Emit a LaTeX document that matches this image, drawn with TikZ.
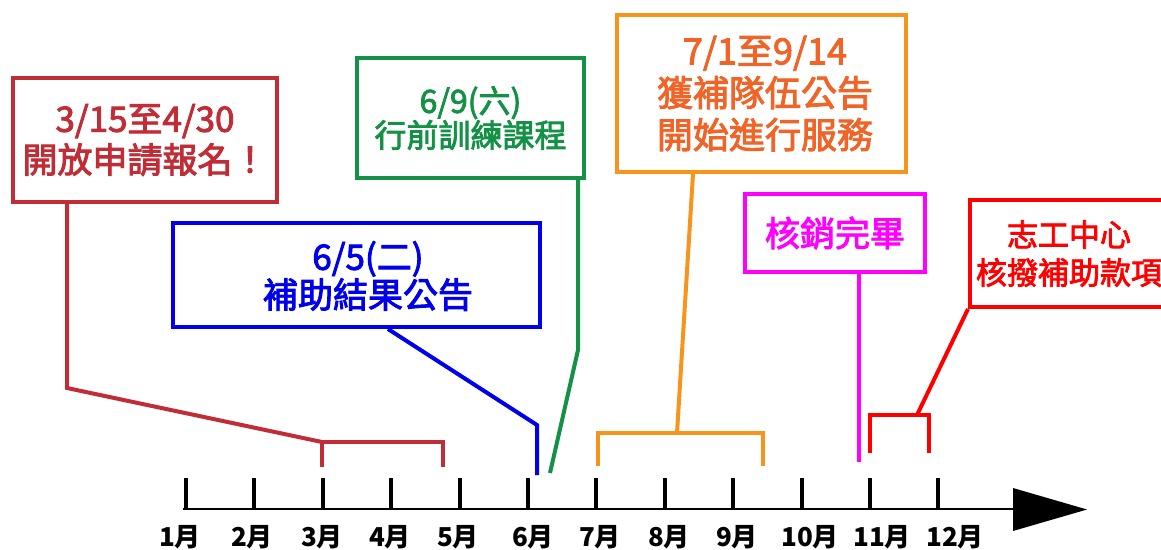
\documentclass[tikz,border=0pt]{standalone}
\usepackage{fontspec}
\setmainfont{Noto Sans CJK TC}
\newfontfamily\medfont{Noto Sans CJK TC}[FakeBold=2.6]
\definecolor{cRedA}{RGB}{192,45,55}
\definecolor{cBlue}{RGB}{0,0,235}
\definecolor{cGreen}{RGB}{20,145,70}
\definecolor{cOrange}{RGB}{247,148,30}
\definecolor{cOrangeT}{RGB}{240,100,40}
\definecolor{cMag}{RGB}{255,0,255}
\definecolor{cRedB}{RGB}{255,0,0}
\tikzset{
  evbox/.style={draw, line width=4pt, fill=white, align=center, inner sep=0pt},
  evtext/.style={align=center, inner sep=0pt},
  conn/.style={line width=4pt, line join=miter},
  tickline/.style={line width=4pt, black},
  monthlbl/.style={font=\fontsize{26}{28}\selectfont\bfseries, inner sep=0pt, anchor=base},
}
\begin{document}
\begin{tikzpicture}[x=1pt,y=-1pt]
\useasboundingbox (0,0) rectangle (1161,549);
\begin{scope}
\clip (0,0) rectangle (1161,549);
% boxes
\node[evbox, draw=cRedA, text=cRedA, minimum width=264pt, minimum height=124pt,
      font=\fontsize{35}{41}\selectfont\medfont] (r1) at (145,140) {3/15至4/30\\開放申請報名！};
\node[evbox, draw=cBlue, minimum width=367pt, minimum height=104pt] (b) at (356.5,275) {};
\node[evtext, text=cBlue, font=\fontsize{35}{38}\selectfont\medfont] (bt) at (368,276) {6/5(二)\\補助結果公告};
\node[evbox, draw=cGreen, text=cGreen, minimum width=227pt, minimum height=120pt,
      font=\fontsize{32}{31}\selectfont\medfont] (g) at (470.5,118) {6/9(六)\\行前訓練課程};
\node[evbox, draw=cOrange, minimum width=289pt, minimum height=157pt] (o) at (761.5,93.5) {};
\node[evtext, text=cOrangeT, font=\fontsize{36}{42}\selectfont\medfont] (ot) at (765,93.5) {7/1至9/14\\獲補隊伍公告\\開始進行服務};
\node[evbox, draw=cMag, text=cMag, minimum width=180pt, minimum height=78pt,
      font=\fontsize{35}{40}\selectfont\medfont] (m) at (835,233) {核銷完畢};
\node[evbox, draw=cRedB, minimum width=205pt, minimum height=107pt] (r2) at (1072.5,253.5) {};
\node[evtext, text=cRedB, font=\fontsize{31}{38}\selectfont\medfont] (r2t) at (1069,253.5) {志工中心\\核撥補助款項};
% connector coordinates
\coordinate (r1k) at (67,388);
\coordinate (r1a) at (322,442);
\coordinate (r1b) at (443,442);
\coordinate (bk) at (537,425);
\coordinate (be) at (537,475);
\coordinate (gk) at (578,350);
\coordinate (ge) at (550,473);
\coordinate (oj) at (677,433);
\coordinate (oa) at (598,433);
\coordinate (ob) at (763,433);
\coordinate (me) at (859,462);
\coordinate (r2j) at (917,415);
\coordinate (r2a) at (870,415);
\coordinate (r2b) at (929,415);
% connectors
\draw[conn, cRedA] (r1.south -| r1k) -- (r1k) -- (r1a);
\draw[conn, cRedA] ([yshift=-25pt]r1a) -- (r1a) -- (r1b) -- ([yshift=-25pt]r1b);
\draw[conn, cBlue] (b.south -| 388,0) -- (bk) -- (be);
\draw[conn, cGreen] (g.south -| gk) -- (gk) -- (ge);
\draw[conn, cOrange] (o.south -| 693,0) -- (oj);
\draw[conn, cOrange] ([yshift=-33pt]oa) -- (oa) -- (ob) -- ([yshift=-33pt]ob);
\draw[conn, cMag] (m.south -| me) -- (me);
\draw[conn, cRedB] (r2.south west) -- (r2j);
\draw[conn, cRedB] ([yshift=-38pt]r2a) -- (r2a) -- (r2b) -- ([yshift=-38pt]r2b);
% axis
\coordinate (ax0) at (183,509);
\coordinate (axh) at (1013,509);
\coordinate (axt) at (1087,509.5);
\draw[line width=2pt, black] (ax0) -- (axh);
\fill[black] (1013,488) -- (axt) -- (1013,531) -- cycle;
\foreach \i/\lx in {1/180,2/252,3/322,4/390,5/458,6/533,7/600,8/669,9/737,10/810,11/882,12/955}{
  \pgfmathsetmacro{\tx}{186+68.4*(\i-1)}
  \coordinate (t\i) at (\tx,509);
  \draw[tickline] (t\i) -- ++(0,-31);
  \node[monthlbl] (lbl\i) at (\lx,546) {\i 月};
}
\end{scope}
\end{tikzpicture}
\end{document}
